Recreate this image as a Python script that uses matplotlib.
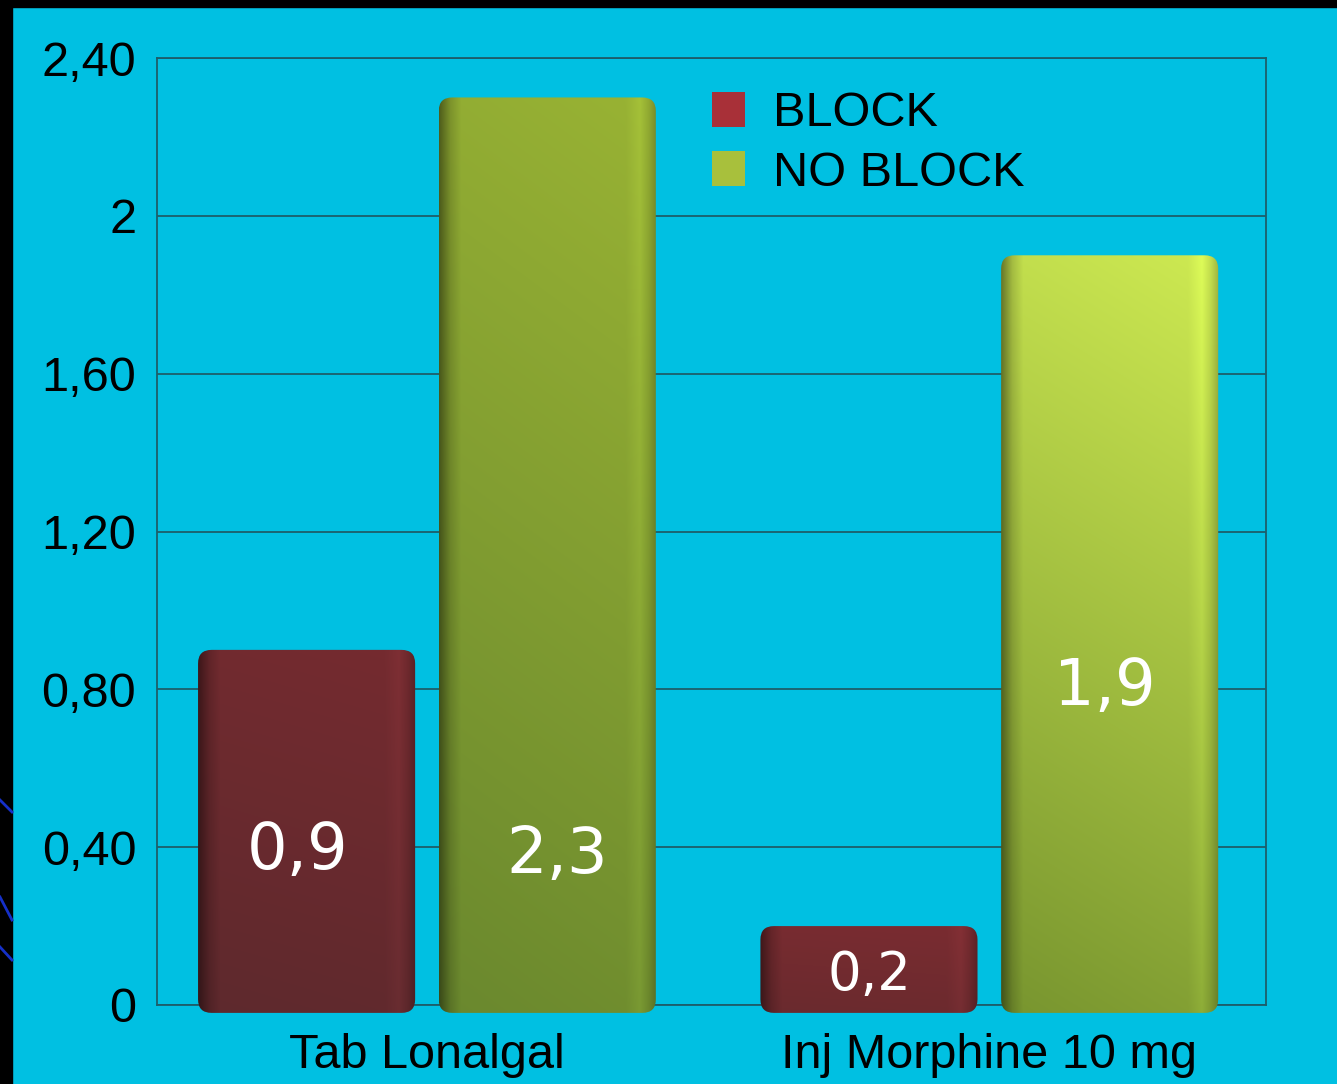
import numpy as np
import matplotlib
matplotlib.use('Agg')
import matplotlib.pyplot as plt
from matplotlib.patches import FancyBboxPatch, Rectangle, Patch
from matplotlib.colors import to_rgb
from matplotlib.lines import Line2D

# ---- data ----
categories = ['Tab Lonalgal', 'Inj Morphine 10 mg']
series_names = ['BLOCK', 'NO BLOCK']
block = [0.9, 0.2]
no_block = [2.3, 1.9]
yticks = [0, 0.4, 0.8, 1.2, 1.6, 2.0, 2.4]
ytick_labels = ['0', '0,40', '0,80', '1,20', '1,60', '2', '2,40']

# ---- style ----
BG = '#00C0E2'
GRID = '#1D5E6A'
SANS = ['Liberation Sans', 'DejaVu Sans']
block_cols = [('#752B30', '#5E292D'), ('#7A2C31', '#6A2A2E')]
noblock_cols = [('#99B334', '#6A882E'), ('#CEEA52', '#78952F')]
legend_cols = ['#A83038', '#A8C03C']
label_y_block = [0.39, 0.075]
label_y_noblock = [0.38, 0.805]
label_dx_block = [-0.016, 0.0]
label_dx_noblock = [0.018, -0.009]
label_size_block = [46, 38]
label_size_noblock = [46, 46]

fig = plt.figure(figsize=(13.37, 10.84), dpi=100, facecolor=BG)
fig.patches.append(Rectangle((0, 1 - 7 / 1084), 1, 7 / 1084, transform=fig.transFigure,
                             color='black', zorder=0))
fig.patches.append(Rectangle((0, 0), 12 / 1337, 1, transform=fig.transFigure,
                             color='black', zorder=0))
for ya, yb in [(800, 812), (897, 920), (947, 960)]:
    fig.add_artist(Line2D([0, 12 / 1337], [1 - ya / 1084, 1 - yb / 1084],
                          transform=fig.transFigure, color='#1530C8', lw=2))

ax = fig.add_axes([157 / 1337, 1 - 1005 / 1084, 1109 / 1337, 947 / 1084])
ax.set_facecolor(BG)

x = np.arange(len(categories))
w = 0.386
off = 0.214
bars_b = ax.bar(x - off, block, w, color='none', edgecolor='none')
bars_n = ax.bar(x + off, no_block, w, color='none', edgecolor='none')


def make_img(top, bottom, n=200, m=160):
    top = np.array(to_rgb(top))
    bottom = np.array(to_rgb(bottom))
    v = np.linspace(1, 0, n)[:, None]
    u = np.linspace(0, 1, m)[None, :]
    t = np.clip(0.85 * v + 0.15 * u, 0, 1)
    base = bottom[None, None, :] + (top - bottom)[None, None, :] * t[:, :, None]
    uu = np.linspace(0, 1, m)
    prof = np.interp(uu, [0, 0.05, 0.1, 0.86, 0.925, 0.965, 1.0],
                     [0.55, 0.85, 1.0, 1.0, 1.08, 0.95, 0.78])
    img = base * prof[None, :, None]
    return np.clip(img, 0, 1)


def shade_bar(rect, cols):
    x0 = rect.get_x()
    wd = rect.get_width()
    h = rect.get_height()
    y0 = -0.02
    patch = FancyBboxPatch((x0, y0), wd, h - y0,
                           boxstyle='round,pad=0,rounding_size=0.024',
                           mutation_aspect=1.424, transform=ax.transData,
                           facecolor='none', edgecolor='none')
    ax.add_patch(patch)
    im = ax.imshow(make_img(*cols), extent=(x0, x0 + wd, y0, h), origin='upper',
                   aspect='auto', interpolation='bilinear', zorder=3)
    im.set_clip_path(patch)
    im.set_clip_box(fig.bbox)


for rect, cols in zip(bars_b, block_cols):
    shade_bar(rect, cols)
for rect, cols in zip(bars_n, noblock_cols):
    shade_bar(rect, cols)

for rect, val, ly, dx, fs in zip(bars_b, block, label_y_block, label_dx_block, label_size_block):
    ax.text(rect.get_x() + rect.get_width() / 2 + dx, ly, f'{val:.1f}'.replace('.', ','),
            ha='center', va='center', color='white', fontsize=fs,
            family='DejaVu Sans', zorder=5)
for rect, val, ly, dx, fs in zip(bars_n, no_block, label_y_noblock, label_dx_noblock, label_size_noblock):
    ax.text(rect.get_x() + rect.get_width() / 2 + dx, ly, f'{val:.1f}'.replace('.', ','),
            ha='center', va='center', color='white', fontsize=fs,
            family='DejaVu Sans', zorder=5)

ax.set_xlim(-0.48, 1.492)
ax.set_ylim(0, 2.4)
ax.set_yticks(yticks)
ax.set_yticklabels(ytick_labels, family=SANS, fontsize=35)
ax.set_xticks(x)
ax.set_xticklabels(categories, family=SANS, fontsize=35)
ax.tick_params(axis='y', length=0, pad=15)
ax.tick_params(axis='x', length=0, pad=20)
ax.yaxis.grid(True, color=GRID, lw=1.3)
ax.set_axisbelow(True)
for s in ax.spines.values():
    s.set_color(GRID)
    s.set_linewidth(1.3)

handles = [Patch(facecolor=c, edgecolor='none') for c in legend_cols]
ax.legend(handles, series_names, loc='upper left', bbox_to_anchor=(0.5, 0.965),
          frameon=False, prop={'family': SANS, 'size': 35},
          handlelength=0.68, handleheight=0.74, handletextpad=0.58,
          labelspacing=0.3, borderpad=0, borderaxespad=0)

fig.savefig('out.png', dpi=100, facecolor=BG)
